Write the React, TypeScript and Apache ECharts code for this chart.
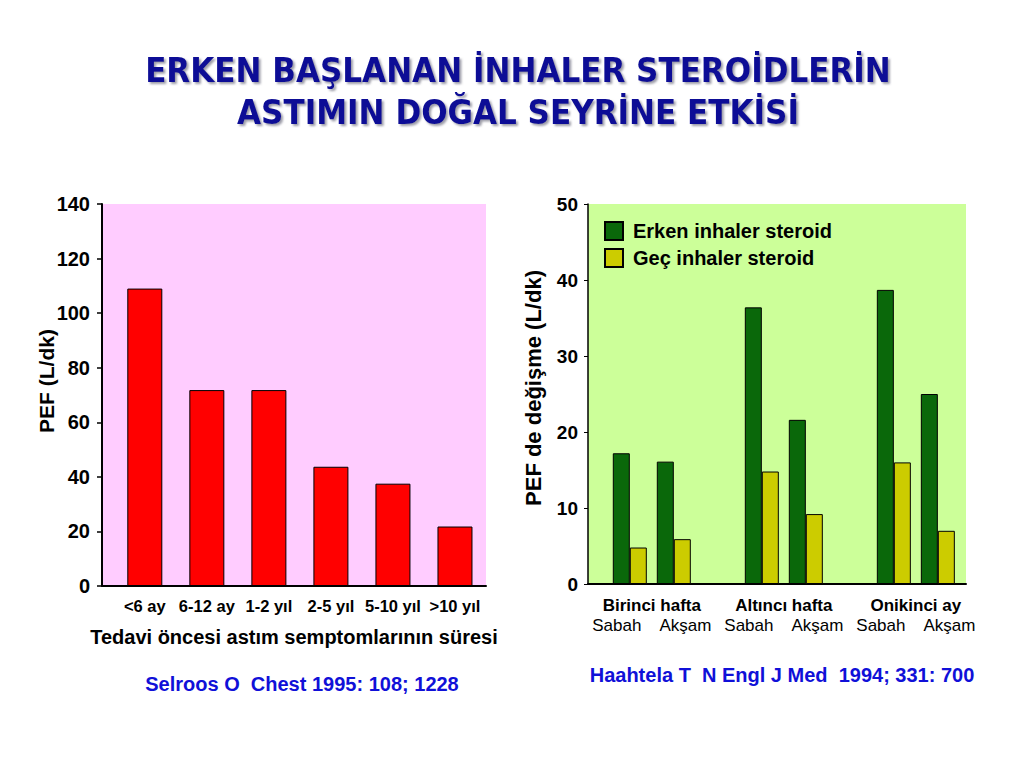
import React, { useEffect, useRef } from "react";
import * as echarts from "echarts";

const titleLines = ["ERKEN BAŞLANAN İNHALER STEROİDLERİN", "ASTIMIN DOĞAL SEYRİNE ETKİSİ"];

// Left chart
const leftCategories = ["<6 ay", "6-12 ay", "1-2 yıl", "2-5 yıl", "5-10 yıl", ">10 yıl"];
const leftValues = [109, 71.8, 71.8, 43.7, 37.5, 21.8];
const leftYTicks = [0, 20, 40, 60, 80, 100, 120, 140];
const leftYName = "PEF (L/dk)";
const leftXName = "Tedavi öncesi astım semptomlarının süresi";
const leftCitation = "Selroos O  Chest 1995: 108; 1228";

// Right chart
const rightGroups = ["Birinci hafta", "Altıncı hafta", "Onikinci ay"];
const rightTimes = ["Sabah", "Akşam"];
const seriesNames = ["Erken inhaler steroid", "Geç inhaler steroid"];
const earlyValues = [17.2, 16.1, 36.4, 21.6, 38.7, 25.0];
const lateValues = [4.8, 5.9, 14.8, 9.2, 16.0, 7.0];
const rightYTicks = [0, 10, 20, 30, 40, 50];
const rightYName = "PEF de değişme (L/dk)";
const rightCitation = "Haahtela T  N Engl J Med  1994; 331: 700";

const FONT = "'Liberation Sans', Arial, Helvetica, sans-serif";
const BLUE = "#1010d8";

export default function App() {
  const ref = useRef<HTMLDivElement>(null);
  useEffect(() => {
    if (!ref.current) return;
    const chart = echarts.init(ref.current, undefined, { renderer: "svg" });

    const leftData = leftValues.map((v, i) => [i, v]);
    // slot index: group * 3 + time index (one empty slot between groups)
    const slot = (i: number) => Math.floor(i / 2) * 3 + (i % 2);
    const earlyData = earlyValues.map((v, i) => [slot(i), v]);
    const lateData = lateValues.map((v, i) => [slot(i), v]);

    const option: any = {
      animation: false,
      backgroundColor: "#ffffff",
      textStyle: { fontFamily: FONT },
      grid: [
        { left: 102, top: 204, right: 538, bottom: 182, show: true, backgroundColor: "#FFCCFF", borderWidth: 0 },
        { left: 588, top: 204, right: 58, bottom: 184, show: true, backgroundColor: "#CCFF99", borderWidth: 0 },
      ],
      legend: {
        left: 604,
        top: 221,
        padding: 0,
        orient: "vertical",
        icon: "rect",
        itemWidth: 18,
        itemHeight: 18,
        itemGap: 7,
        data: seriesNames,
        textStyle: { fontFamily: FONT, fontWeight: "bold", fontSize: 20, color: "#000", padding: [0, 0, 0, 5] },
        selectedMode: false,
      },
      xAxis: [
        {
          gridIndex: 0,
          type: "value",
          min: -0.69,
          max: 5.5,
          splitLine: { show: false },
          axisLine: { show: true, onZero: false, lineStyle: { color: "#000", width: 2 } },
          axisTick: { show: false },
          axisLabel: {
            customValues: leftCategories.map((_, i) => i),
            formatter: (v: number) => leftCategories[Math.round(v)] ?? "",
            fontFamily: FONT,
            fontWeight: "bold",
            fontSize: 16.5,
            color: "#000",
            margin: 11,
          },
          name: leftXName,
          nameLocation: "middle",
          nameGap: 41,
          nameTextStyle: { fontFamily: FONT, fontWeight: "bold", fontSize: 20, color: "#000" },
        },
        {
          gridIndex: 1,
          type: "value",
          min: -0.95,
          max: 7.64,
          splitLine: { show: false },
          axisLine: { show: true, onZero: false, lineStyle: { color: "#000", width: 2 } },
          axisTick: { show: false },
          axisLabel: {
            customValues: rightGroups.map((_, g) => g * 3 + 0.5),
            formatter: (v: number) => {
              const g = Math.round((v - 0.5) / 3);
              return `{b|${rightGroups[g]}}\n{n|${rightTimes[0]}    ${rightTimes[1]}}`;
            },
            margin: 11,
            rich: {
              b: { fontFamily: FONT, fontWeight: "bold", fontSize: 17, color: "#000", lineHeight: 20 },
              n: { fontFamily: FONT, fontWeight: "normal", fontSize: 17, color: "#000", lineHeight: 20 },
            },
          },
        },
      ],
      yAxis: [
        {
          gridIndex: 0,
          type: "value",
          min: leftYTicks[0],
          max: leftYTicks[leftYTicks.length - 1],
          interval: leftYTicks[1] - leftYTicks[0],
          splitLine: { show: false },
          axisLine: { show: true, onZero: false, lineStyle: { color: "#000", width: 2 } },
          axisTick: { show: true, length: 5, lineStyle: { color: "#000", width: 1.5 } },
          axisLabel: { fontFamily: FONT, fontWeight: "bold", fontSize: 20, color: "#000", margin: 12 },
        },
        {
          gridIndex: 1,
          type: "value",
          min: rightYTicks[0],
          max: rightYTicks[rightYTicks.length - 1],
          interval: rightYTicks[1] - rightYTicks[0],
          splitLine: { show: false },
          axisLine: { show: true, onZero: false, lineStyle: { color: "#000", width: 1.5 } },
          axisTick: { show: true, length: 4, lineStyle: { color: "#000", width: 1 } },
          axisLabel: { fontFamily: FONT, fontWeight: "bold", fontSize: 19, color: "#000", margin: 10 },
        },
      ],
      series: [
        {
          type: "bar",
          xAxisIndex: 0,
          yAxisIndex: 0,
          data: leftData,
          barWidth: 35,
          itemStyle: { color: "#FF0000", borderColor: "#000", borderWidth: 1 },
        },
        {
          name: seriesNames[0],
          type: "bar",
          xAxisIndex: 1,
          yAxisIndex: 1,
          data: earlyData,
          barWidth: 17,
          barGap: "0%",
          itemStyle: { color: "#0A680A", borderColor: "#000", borderWidth: 1 },
        },
        {
          name: seriesNames[1],
          type: "bar",
          xAxisIndex: 1,
          yAxisIndex: 1,
          data: lateData,
          barWidth: 17,
          barGap: "0%",
          itemStyle: { color: "#CCCC00", borderColor: "#000", borderWidth: 1 },
        },
      ],
      graphic: [
        ...titleLines.map((t, i) => ({
          type: "text",
          x: 518,
          y: 70 + i * 42,
          style: {
            text: t,
            align: "center",
            verticalAlign: "middle",
            fontFamily: "'Liberation Sans Narrow', 'DejaVu Sans Condensed', 'Arial Narrow', sans-serif",
            fontWeight: "bold",
            fontSize: 34.5,
            fill: "#0e0e96",
            textShadowColor: "rgba(90,90,110,0.6)",
            textShadowOffsetX: 2,
            textShadowOffsetY: 2,
            textShadowBlur: 2,
          },
        })),
        {
          type: "text",
          x: 46,
          y: 381,
          rotation: Math.PI / 2,
          style: {
            text: leftYName,
            align: "center",
            verticalAlign: "middle",
            fontFamily: FONT,
            fontWeight: "bold",
            fontSize: 21,
            fill: "#000",
          },
        },
        {
          type: "text",
          x: 533,
          y: 388,
          rotation: Math.PI / 2,
          style: {
            text: rightYName,
            align: "center",
            verticalAlign: "middle",
            fontFamily: FONT,
            fontWeight: "bold",
            fontSize: 22,
            fill: "#000",
          },
        },
        {
          type: "text",
          x: 302,
          y: 684,
          style: {
            text: leftCitation,
            align: "center",
            verticalAlign: "middle",
            fontFamily: FONT,
            fontWeight: "bold",
            fontSize: 20,
            fill: BLUE,
          },
        },
        {
          type: "text",
          x: 782,
          y: 675,
          style: {
            text: rightCitation,
            align: "center",
            verticalAlign: "middle",
            fontFamily: FONT,
            fontWeight: "bold",
            fontSize: 20,
            fill: BLUE,
          },
        },
      ],
    };
    chart.setOption(option);
    return () => chart.dispose();
  }, []);

  return (
    <div
      ref={ref}
      style={{ position: "fixed", left: 0, top: 0, width: 1024, height: 768 }}
    />
  );
}
